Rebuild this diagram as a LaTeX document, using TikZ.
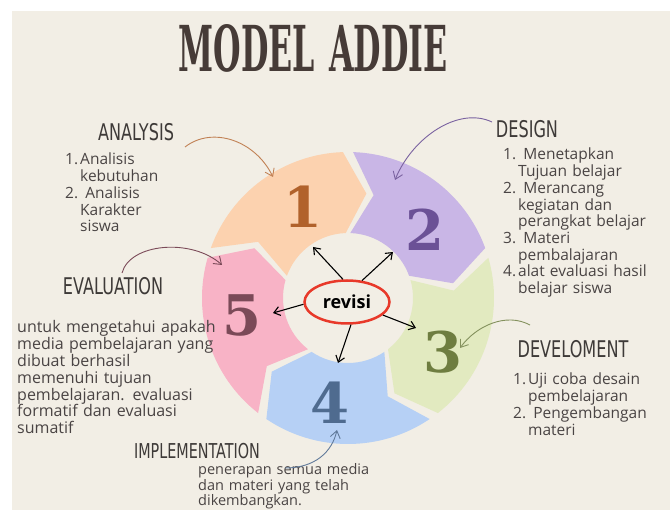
\documentclass[tikz,border=0pt]{standalone}
\usepackage{fontspec}
\setmainfont{Open Sans}
\newfontfamily\titlefont{DejaVu Serif}
\newfontfamily\headfont{DejaVu Sans}[FakeStretch=0.7]
\newfontfamily\numfont{DejaVu Serif}
\usetikzlibrary{arrows.meta,shapes.geometric}
\definecolor{bg}{HTML}{F2EEE5}
\definecolor{titlecol}{HTML}{463B37}
\definecolor{headcol}{HTML}{3E3A38}
\definecolor{bodycol}{HTML}{4A4444}
\definecolor{seg1}{HTML}{FCD2AF}
\definecolor{seg2}{HTML}{C9B6E6}
\definecolor{seg3}{HTML}{E2EAC0}
\definecolor{seg4}{HTML}{B6D0F5}
\definecolor{seg5}{HTML}{F8B3C6}
\definecolor{num1}{HTML}{B1622B}
\definecolor{num2}{HTML}{6B5196}
\definecolor{num3}{HTML}{6E7D40}
\definecolor{num4}{HTML}{4F6B8F}
\definecolor{num5}{HTML}{7B4A58}
\definecolor{revred}{HTML}{E8392A}
\newcommand{\nr}[1]{\makebox[15pt][l]{#1}}
\tikzset{
  head/.style={inner sep=0pt,text=headcol,font=\headfont\fontsize{23}{23}\selectfont},
  body/.style={inner sep=0pt,anchor=base west,align=left,text width=220pt,text=bodycol,font=\fontsize{15.5}{16.7}\selectfont},
  num/.style={inner sep=0pt,font=\numfont\bfseries\fontsize{56}{56}\selectfont},
  ray/.style={-{Straight Barb[length=6pt,width=9pt]},line width=1.1pt},
  hint/.style={-{Straight Barb[length=7pt,width=10pt]},line width=0.9pt},
}
\begin{document}
\begin{tikzpicture}[x=1pt,y=-1pt]
\useasboundingbox (0,0) rectangle (670,510);
\fill[white] (0,0) rectangle (670,510);
\fill[bg] (12,11) rectangle (670,510);
\node[inner sep=0pt,text=titlecol] (title) at (313,48.5) {\resizebox{269pt}{47pt}{\titlefont\bfseries MODEL\hspace{0.45em}ADDIE}};
% ring of five arrows
\begin{scope}[shift={(348,298)},y=1pt]
\foreach \k/\c in {1/seg1,2/seg2,3/seg3,4/seg4,5/seg5}{
  \pgfmathsetmacro{\s}{162-72*(\k-1)}
  \fill[\c] ({\s-2}:146) arc[start angle=\s-2,end angle=\s-70,radius=146] -- ({\s-82}:106) -- ({\s-70}:65)
    arc[start angle=\s-70,end angle=\s-2,radius=65] -- ({\s-14}:106) -- cycle;
}
\end{scope}
\node[num,text=num1] (n1) at (303,207) {1};
\node[num,text=num2] (n2) at (425,230) {2};
\node[num,text=num3] (n3) at (443,352) {3};
\node[num,text=num4] (n4) at (330,403) {4};
\node[num,text=num5] (n5) at (242,315) {5};
% centre
\node[draw=revred,line width=2.5pt,ellipse,minimum width=85pt,minimum height=43pt,inner sep=0pt,font=\bfseries\fontsize{18}{18}\selectfont] (revisi) at (347,302) {revisi};
\coordinate (r1) at (313,247);
\coordinate (r2) at (393,252);
\coordinate (r3) at (416,328);
\coordinate (r4) at (338,363);
\coordinate (r5) at (273,313);
\draw[ray] (revisi.100) -- (r1);
\draw[ray] (revisi.55) -- (r2);
\draw[ray] (revisi.-20) -- (r3);
\draw[ray] (revisi.-80) -- (r4);
\draw[ray] (revisi.183) -- (r5);
% headings
\node[head] (ana) at (136,132) {ANALYSIS};
\node[head] (des) at (527,129) {DESIGN};
\node[head] (eva) at (113,286) {EVALUATION};
\node[head] (dev) at (573,349) {DEVELOMENT};
\node[head,font=\headfont\fontsize{20.5}{20.5}\selectfont] (imp) at (197,451) {IMPLEMENTATION};
% texts
\node[body] (anatxt) at (65,165) {\nr{1.}Analisis\\ \nr{}kebutuhan\\ \nr{2.} Analisis\\ \nr{}Karakter\\ \nr{}siswa};
\node[body] (destxt) at (503,160) {\nr{1.} Menetapkan\\ \nr{}Tujuan belajar\\ \nr{2.} Merancang\\ \nr{}kegiatan dan\\ \nr{}perangkat belajar\\ \nr{3.} Materi\\ \nr{}pembalajaran\\ \nr{4.}alat evaluasi hasil\\ \nr{}belajar siswa};
\node[body,font=\fontsize{16}{16.8}\selectfont] (evatxt) at (17,333) {untuk mengetahui apakah\\ media pembelajaran yang\\ dibuat berhasil\\ memenuhi tujuan\\ pembelajaran. evaluasi\\ formatif dan evaluasi\\ sumatif};
\node[body] (devtxt) at (513,385) {\nr{1.}Uji coba desain\\ \nr{}pembelajaran\\ \nr{2.} Pengembangan\\ \nr{}materi};
\node[body,font=\fontsize{14.5}{13.5}\selectfont] (imptxt) at (198,475) {penerapan semua media\\ dan materi yang telah\\ dikembangkan.};
% hint arrows
\coordinate (anaA) at (185,147); \coordinate (anaB) at (273,177);
\coordinate (desA) at (492,122); \coordinate (desB) at (395,180);
\coordinate (devA) at (530,325); \coordinate (devB) at (460,348);
\coordinate (evaA) at (122,273); \coordinate (evaB) at (222,265);
\coordinate (impA) at (285,468); \coordinate (impB) at (337,430);
\draw[hint,num1!80] (anaA) .. controls (212,126) and (255,140) .. (anaB);
\draw[hint,num2!90] (desA) .. controls (458,106) and (412,138) .. (desB);
\draw[hint,num3!85] (devA) .. controls (506,312) and (476,326) .. (devB);
\draw[hint,num5] (evaA) .. controls (130,243) and (192,238) .. (evaB);
\draw[hint,num4!90] (impA) .. controls (315,468) and (332,452) .. (impB);
\end{tikzpicture}
\end{document}
